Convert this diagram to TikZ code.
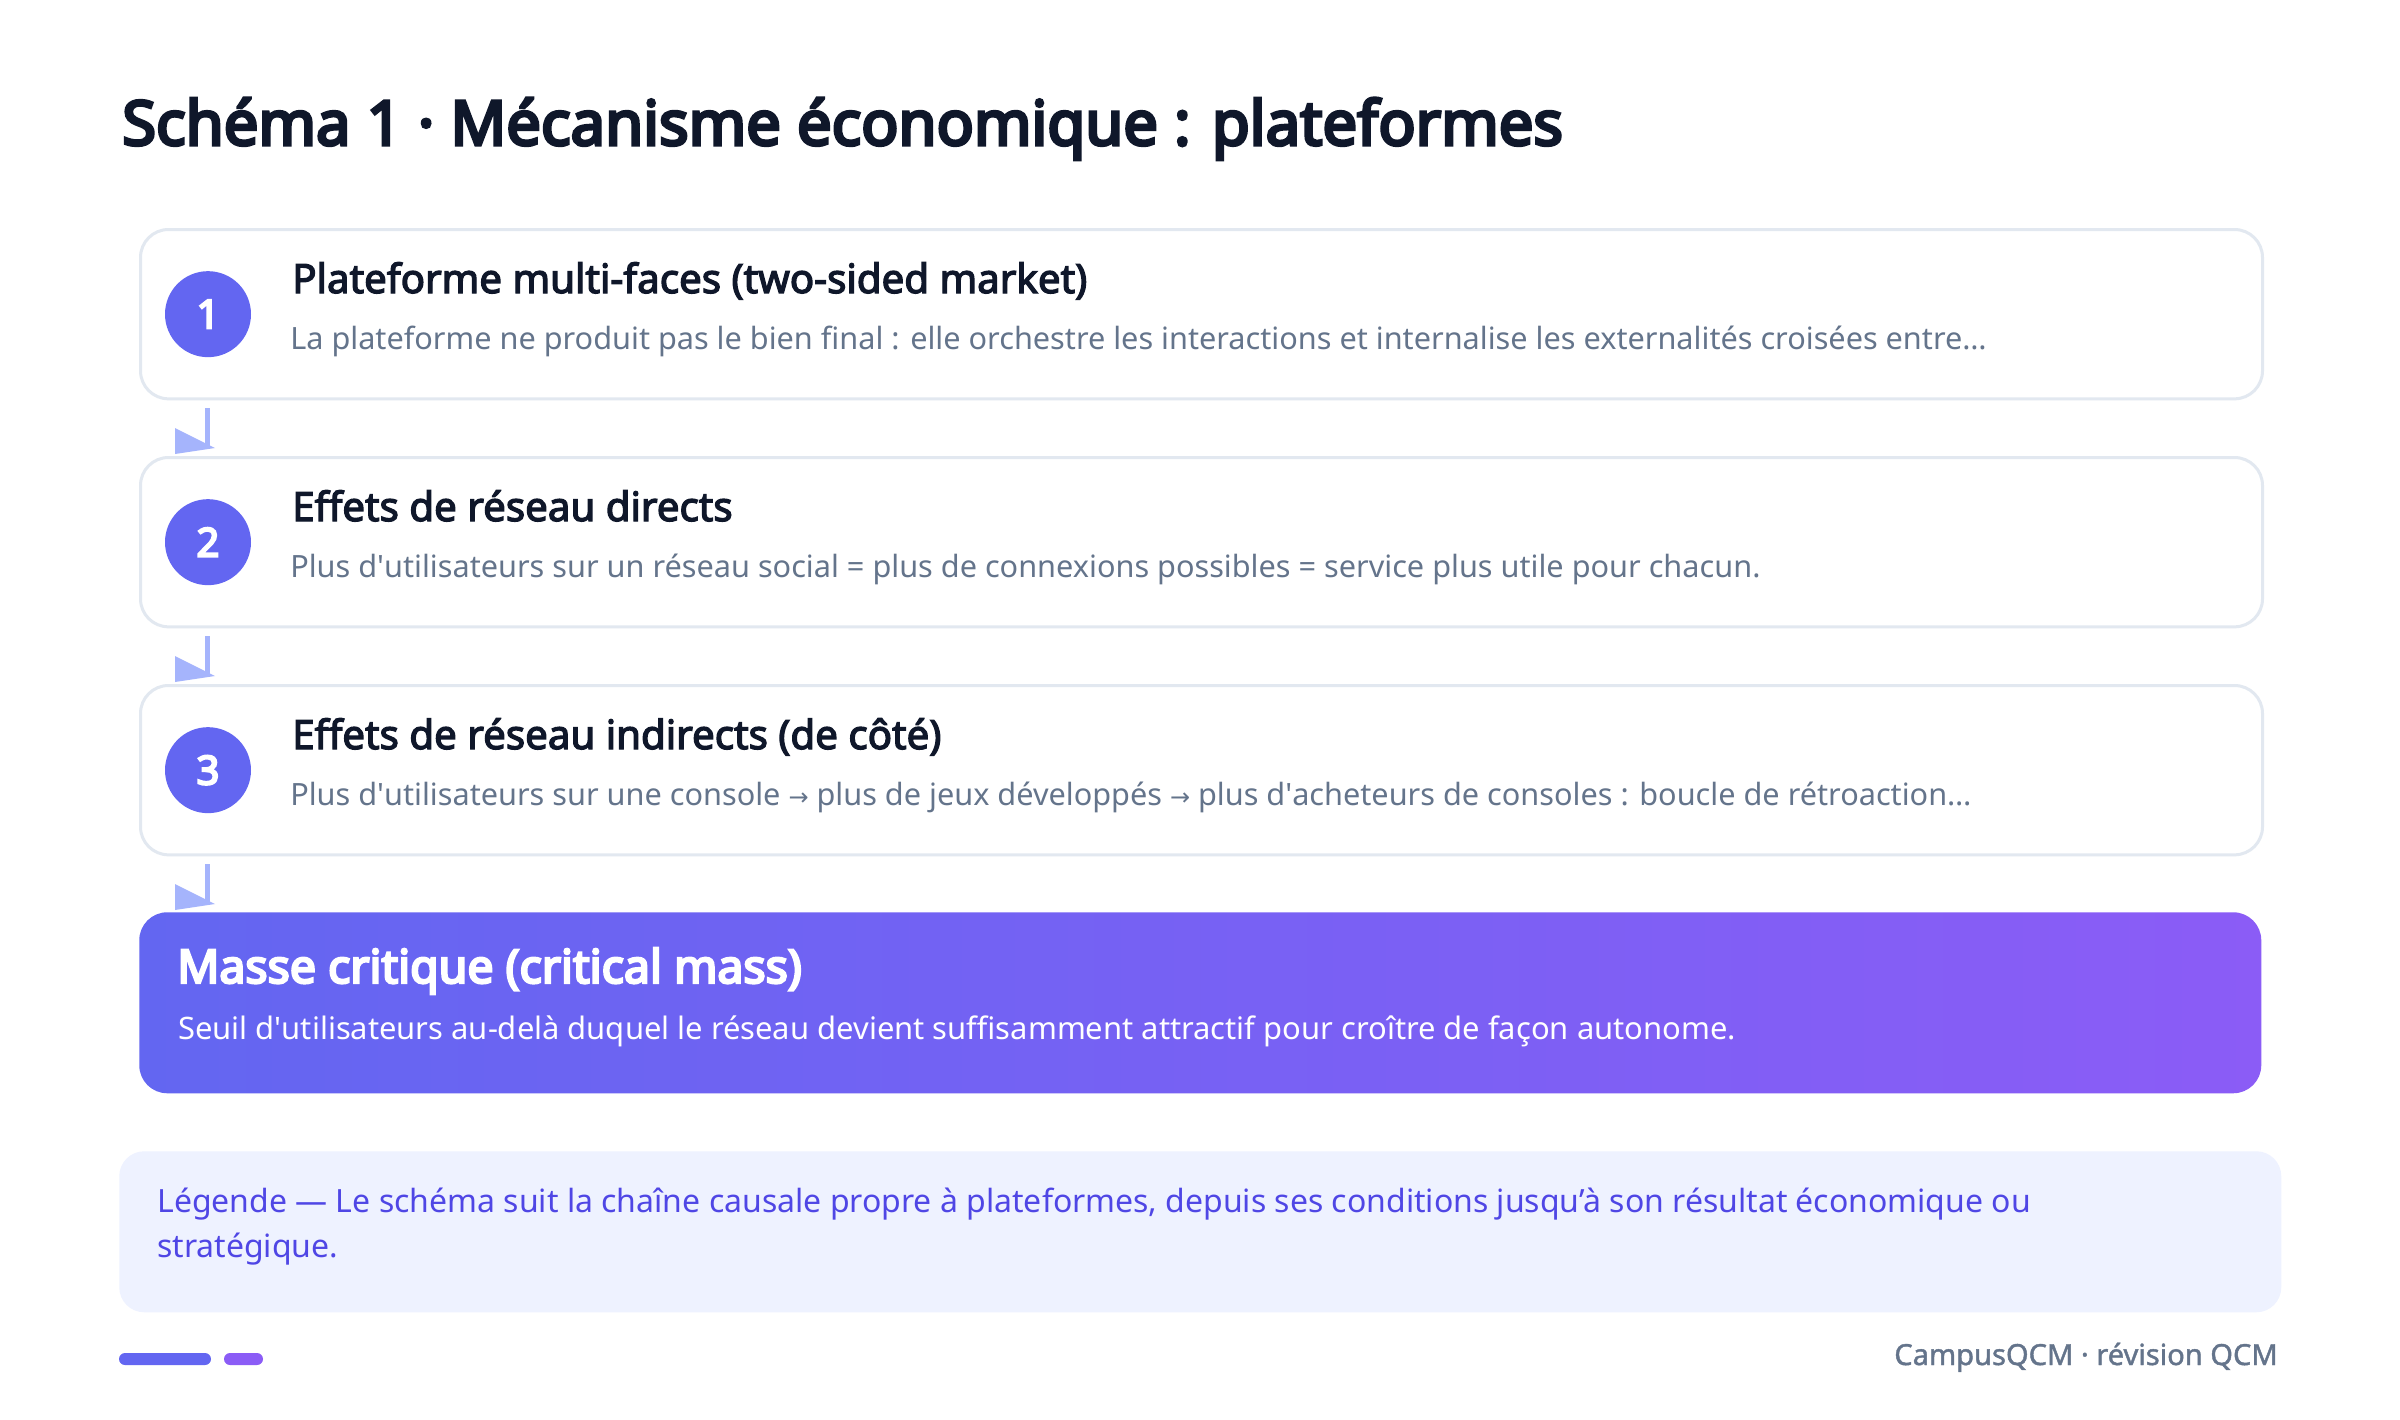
\documentclass[tikz,border=0pt]{standalone}
\usepackage{fontspec}
\setmainfont{Noto Sans}[AutoFakeBold=2.5]
\newfontfamily\heavyfont{Noto Sans}[FakeBold=5]
\newfontfamily\boldfont{Noto Sans}[FakeBold=3.2]
\newfontfamily\semifont{Noto Sans}[FakeBold=1.4]
\newfontfamily\arrowfont{DejaVu Sans}
\usetikzlibrary{positioning,calc}

\definecolor{inkdark}{HTML}{0F172A}
\definecolor{inkgray}{HTML}{64748B}
\definecolor{cardline}{HTML}{E2E8F0}
\definecolor{indigo}{HTML}{6366F1}
\definecolor{violet}{HTML}{8B5CF6}
\definecolor{flowcol}{HTML}{A5B4FC}
\definecolor{legendfill}{HTML}{EEF2FF}
\definecolor{legendink}{HTML}{4F46E5}

\newcommand{\ra}{{\arrowfont\fontsize{18}{20}\selectfont →}}
\newcommand{\apos}{\textquotesingle}

\tikzset{
  card/.style={draw=cardline, line width=2.25pt, fill=white, rounded corners=21pt,
    minimum width=1591.5pt, minimum height=127pt, anchor=north west, inner sep=0pt},
  badge/.style={circle, fill=indigo, minimum size=64.5pt, inner sep=0pt,
    text=white, font=\heavyfont\fontsize{30}{32}\selectfont},
  cardtitle/.style={anchor=base west, inner sep=0pt, text=inkdark,
    font=\boldfont\fontsize{30.2}{35}\selectfont},
  cardtext/.style={anchor=base west, inner sep=0pt, text=inkgray,
    font=\fontsize{23}{28}\selectfont},
  flowline/.style={draw=flowcol, line width=3.75pt},
}

\begin{document}
\begin{tikzpicture}[x=0.75pt,y=0.75pt,yscale=-1,xscale=1]
\fill[white] (0,0) rectangle (2400,1420);
\useasboundingbox (0,0) rectangle (2400,1420);

% Title
\node[anchor=base west, inner sep=0pt, text=inkdark, font=\heavyfont\fontsize{46.2}{52}\selectfont]
  (title) at (122,145) {Schéma 1 · Mécanisme économique : plateformes};

% Steps
\node[card] (b1) at (139,228) {};
\node[card] (b2) at (139,456) {};
\node[card] (b3) at (139,684) {};

\node[badge] (n1) at ($(b1.west)+(69,0)$) {1};
\node[badge] (n2) at ($(b2.west)+(69,0)$) {2};
\node[badge] (n3) at ($(b3.west)+(69,0)$) {3};

\node[cardtitle] (t1) at ($(b1.north west)+(153,65)$) {Plateforme multi-faces (two-sided market)};
\node[cardtext] (s1) at ($(b1.north west)+(151,121)$) {La plateforme ne produit pas le bien final : elle orchestre les interactions et internalise les externalités croisées entre…};
\node[cardtitle] (t2) at ($(b2.north west)+(153,65)$) {Effets de réseau directs};
\node[cardtext] (s2) at ($(b2.north west)+(151,121)$) {Plus d\apos{}utilisateurs sur un réseau social = plus de connexions possibles = service plus utile pour chacun.};
\node[cardtitle] (t3) at ($(b3.north west)+(153,65)$) {Effets de réseau indirects (de côté)};
\node[cardtext] (s3) at ($(b3.north west)+(151,121)$) {Plus d\apos{}utilisateurs sur une console \ra{} plus de jeux développés \ra{} plus d\apos{}acheteurs de consoles : boucle de rétroaction…};

% Outcome
\node[anchor=north west, minimum width=1591.5pt, minimum height=135.75pt, inner sep=0pt,
  rounded corners=21pt, left color=indigo, right color=violet] (fin) at (139,912) {};
\node[anchor=base west, inner sep=0pt, text=white, font=\heavyfont\fontsize{34.8}{40}\selectfont]
  (tf) at ($(fin.north west)+(38,71)$) {Masse critique (critical mass)};
\node[anchor=base west, inner sep=0pt, text=white, font=\fontsize{23.2}{28}\selectfont]
  (sf) at ($(fin.north west)+(39,127)$) {Seuil d\apos{}utilisateurs au-delà duquel le réseau devient suffisamment attractif pour croître de façon autonome.};

% Connectors
\foreach \a/\b in {b1/b2, b2/b3, b3/fin} {
  \draw[flowline] ($(\a.south -| n1)+(-1,8)$) -- ($(\b.north -| n1)+(-1,-7)$);
  \fill[flowcol] ($(\b.north -| n1)+(-33,-28)$) -- ++(0,26) -- ++(40,-6) -- cycle;
}

% Legend
\node[anchor=north west, minimum width=1621.5pt, minimum height=120.75pt, inner sep=0pt,
  rounded corners=18.75pt, fill=legendfill] (leg) at (119,1151) {};
\node[anchor=base west, inner sep=0pt, align=left, text=legendink, font=\fontsize{24}{33.75}\selectfont]
  (legtext) at ($(leg.north west)+(38,106)$) {Légende — Le schéma suit la chaîne causale propre à plateformes, depuis ses conditions jusqu’à son résultat économique ou\\stratégique.};

% Footer
\fill[indigo, rounded corners=4.5pt] (119,1353) rectangle (211,1365);
\fill[violet, rounded corners=4.5pt] (224,1353) rectangle (263,1365);
\node[anchor=base east, inner sep=0pt, text=inkgray, font=\semifont\fontsize{21.8}{26}\selectfont]
  (brand) at (2278,1365) {CampusQCM · révision QCM};

\end{tikzpicture}
\end{document}
